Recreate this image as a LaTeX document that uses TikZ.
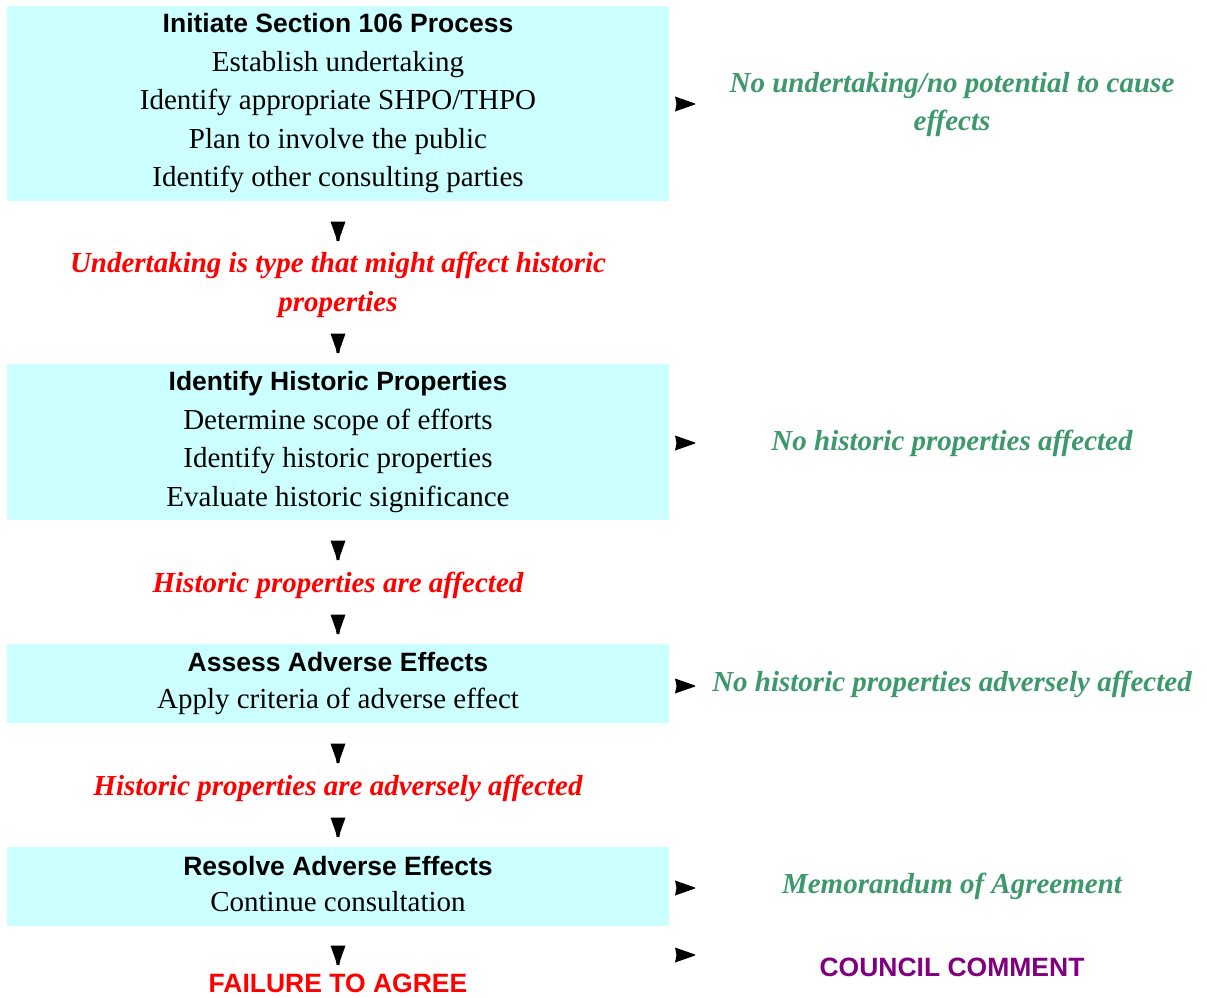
\documentclass[tikz,border=0pt]{standalone}
\usepackage{fontspec}
\setmainfont{Liberation Serif}
\setsansfont{Liberation Sans}
\definecolor{boxcyan}{RGB}{204,255,255}
\definecolor{okgreen}{RGB}{61,153,107}
\definecolor{stopred}{RGB}{255,0,0}
\definecolor{cpurple}{RGB}{128,0,128}
\newcommand\hdr[1]{{\sffamily\bfseries\fontsize{26.5}{38.5}\selectfont #1}}
\newcommand\mydarrow[1]{\fill (#1) ++(-7.5,-9.5) -- ++(15,0) -- ++(-5.5,15.5) -- ++(-0.6,4) -- ++(-2.8,0) -- ++(-0.6,-4) -- cycle;}
\newcommand\myrarrow[1]{\fill (#1) ++(-10,-7.5) -- ++(20,7) -- ++(0,1) -- ++(-20,7) -- ++(1.5,-7.5) -- cycle;}
\begin{document}
\begin{tikzpicture}[x=1pt,y=-1pt,
  flowbox/.style={fill=boxcyan, draw=none, minimum width=662pt, inner sep=0pt},
  boxtxt/.style={align=center, inner sep=0pt, font=\fontsize{29}{38.5}\selectfont},
  redtxt/.style={text=stopred, align=center, inner sep=0pt, font=\fontsize{29}{39}\selectfont\bfseries\itshape},
  greentxt/.style={text=okgreen, align=center, inner sep=0pt, font=\fontsize{29}{38}\selectfont\bfseries\itshape},
  capstxt/.style={inner sep=0pt, font=\fontsize{26.5}{32}\selectfont\sffamily\bfseries}]
\useasboundingbox (0,0) rectangle (1207,997);

\node[flowbox, minimum height=195pt] (b1) at (338,103.5) {};
\node[flowbox, minimum height=156pt] (b2) at (338,442) {};
\node[flowbox, minimum height=79pt] (b3) at (338,683.5) {};
\node[flowbox, minimum height=79pt] (b4) at (338,886.5) {};

\node[boxtxt] (t1) at (b1.center) {\hdr{Initiate Section 106 Process}\\Establish undertaking\\Identify appropriate SHPO/THPO\\Plan to involve the public\\Identify other consulting parties};
\node[boxtxt] (t2) at (b2.center) {\hdr{Identify Historic Properties}\\Determine scope of efforts\\Identify historic properties\\Evaluate historic significance};
\node[boxtxt, font=\fontsize{29}{37}\selectfont] (t3) at (b3.center) {\hdr{Assess Adverse Effects}\\Apply criteria of adverse effect};
\node[boxtxt, font=\fontsize{29}{36}\selectfont, yshift=2.5pt] (t4) at (b4.center) {\hdr{Resolve Adverse Effects}\\Continue consultation};

\node[redtxt] (r1) at (338,285) {Undertaking is type that might affect historic\\properties};
\node[redtxt] (r2) at (338,585) {Historic properties are affected};
\node[redtxt] (r3) at (338,788) {Historic properties are adversely affected};
\node[capstxt, text=stopred] (r4) at (338,983) {FAILURE TO AGREE};

\node[greentxt] (g1) at (952,104.5) {No undertaking/no potential to cause\\effects};
\node[greentxt] (g2) at (952,443) {No historic properties affected};
\node[greentxt] (g3) at (952,684) {No historic properties adversely affected};
\node[greentxt] (g4) at (952,886) {Memorandum of Agreement};
\node[capstxt, text=cpurple] (g5) at (952,967) {COUNCIL COMMENT};

\coordinate (d1) at (338,231);
\coordinate (d2) at (338,343);
\coordinate (d3) at (338,550);
\coordinate (d4) at (338,624);
\coordinate (d5) at (338,753);
\coordinate (d6) at (338,827);
\coordinate (d7) at (338,955);
\foreach \c in {d1,d2,d3,d4,d5,d6,d7} {\mydarrow{\c}}

\coordinate (a1) at (685,104);
\coordinate (a2) at (685,443);
\coordinate (a3) at (685,686);
\coordinate (a4) at (685,888);
\coordinate (a5) at (685,955);
\foreach \c in {a1,a2,a3,a4,a5} {\myrarrow{\c}}
\end{tikzpicture}
\end{document}
